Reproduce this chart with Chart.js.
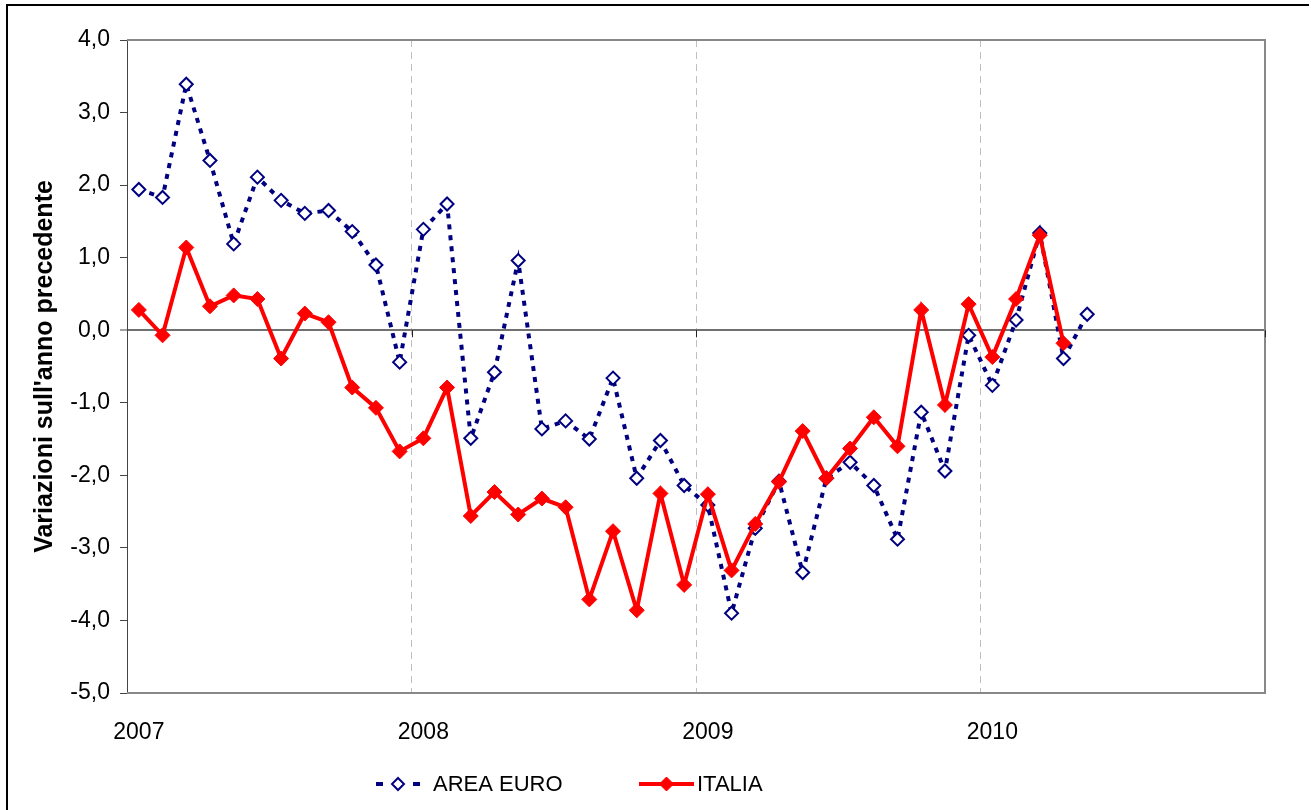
<!DOCTYPE html>
<html>
<head>
<meta charset="utf-8">
<script src="https://cdn.jsdelivr.net/npm/chart.js@4/dist/chart.umd.min.js"></script>
<style>
  html, body { margin: 0; padding: 0; background: #fff; overflow: hidden; }
  #wrap { position: relative; width: 1311px; height: 810px; }
  #frame { position: absolute; left: 6px; top: 4px; width: 1301px; height: 900px;
           border-top: 2px solid #000; border-left: 2px solid #000; pointer-events: none; }
</style>
</head>
<body>
<div id="wrap">
  <canvas id="chart" width="1311" height="810"></canvas>
  <div id="frame"></div>
</div>
<script>
var years = ['2007', '2008', '2009', '2010'];

// one slot per month, Jan 2007 .. Dec 2010
var months = [];
years.forEach(function(y) {
  for (var m = 1; m <= 12; m++) months.push(m + '/' + y);
});

var areaEuro = [1.94, 1.83, 3.39, 2.34, 1.19, 2.11, 1.79, 1.61, 1.65, 1.36, 0.90, -0.44,
                1.39, 1.74, -1.49, -0.58, 0.96, -1.36, -1.25, -1.50, -0.66, -2.04, -1.52, -2.14,
                -2.41, -3.90, -2.73, -2.08, -3.34, -2.04, -1.82, -2.14, -2.88, -1.13, -1.94, -0.07,
                -0.76, 0.14, 1.34, -0.39, 0.22];

var italia = [0.28, -0.07, 1.14, 0.33, 0.48, 0.43, -0.39, 0.23, 0.11, -0.79, -1.07, -1.67,
              -1.49, -0.79, -2.56, -2.23, -2.54, -2.32, -2.44, -3.71, -2.77, -3.86, -2.25, -3.51,
              -2.26, -3.31, -2.67, -2.09, -1.39, -2.04, -1.63, -1.20, -1.60, 0.28, -1.03, 0.36,
              -0.37, 0.43, 1.31, -0.18];

var seriesNames = ['AREA EURO', 'ITALIA'];
var yTicks = [4, 3, 2, 1, 0, -1, -2, -3, -4, -5];

var FONT = "'Liberation Sans', Arial, sans-serif";

// plot frame, year ticks on the zero line
var framePlugin = {
  id: 'frame',
  beforeDatasetsDraw: function(chart) {
    var c = chart.ctx, a = chart.chartArea;
    var xs = chart.scales.x, ys = chart.scales.y;
    c.save();
    c.strokeStyle = '#888';
    c.lineWidth = 2;
    c.beginPath();
    c.moveTo(a.left, a.top);
    c.lineTo(a.right, a.top);
    c.lineTo(a.right, a.bottom);
    c.lineTo(a.left, a.bottom);
    c.stroke();

    var y0 = ys.getPixelForValue(0);
    var step = xs.getPixelForValue(1) - xs.getPixelForValue(0);
    c.strokeStyle = '#222';
    c.lineWidth = 1;
    [12, 24, 36, 48].forEach(function(i) {
      var x = Math.round(xs.getPixelForValue(i) - step / 2) + 0.5;
      c.beginPath();
      c.moveTo(x, y0);
      c.lineTo(x, y0 + 7);
      c.stroke();
    });
    c.restore();
  }
};

// legend with line + marker samples
var legendPlugin = {
  id: 'lineLegend',
  afterDraw: function(chart) {
    var c = chart.ctx;
    var y = 784;
    var items = [
      { ds: chart.data.datasets[0], x0: 376, x1: 420, tx: 433 },
      { ds: chart.data.datasets[1], x0: 639, x1: 694, tx: 697 }
    ];
    c.save();
    items.forEach(function(it) {
      var ds = it.ds;
      c.strokeStyle = ds.borderColor;
      c.lineWidth = ds.borderWidth;
      if (ds.borderDash) {
        c.fillStyle = ds.borderColor;
        c.fillRect(it.x0, y - 2, 7, 4);
        c.fillRect(it.x1 - 7, y - 2, 7, 4);
      } else {
        c.beginPath();
        c.moveTo(it.x0, y);
        c.lineTo(it.x1, y);
        c.stroke();
      }
      var cx = (it.x0 + it.x1) / 2, r = ds.pointRadius - 0.5;
      c.beginPath();
      c.moveTo(cx, y - r);
      c.lineTo(cx + r, y);
      c.lineTo(cx, y + r);
      c.lineTo(cx - r, y);
      c.closePath();
      c.fillStyle = ds.pointBackgroundColor;
      c.fill();
      c.lineWidth = ds.pointBorderWidth;
      c.strokeStyle = ds.pointBorderColor;
      c.stroke();

      c.fillStyle = '#000';
      c.font = '22px ' + FONT;
      c.textBaseline = 'middle';
      c.textAlign = 'left';
      c.fillText(ds.label, it.tx, y + 1);
    });
    c.restore();
  }
};

new Chart(document.getElementById('chart'), {
  type: 'line',
  data: {
    labels: months,
    datasets: [
      {
        label: seriesNames[0],
        data: areaEuro,
        borderColor: '#000080',
        borderWidth: 4,
        borderDash: [5, 6],
        borderCapStyle: 'butt',
        pointStyle: 'rectRot',
        pointRadius: 6.5,
        pointBorderWidth: 2,
        pointBorderColor: '#000080',
        pointBackgroundColor: '#fff',
        tension: 0,
        order: 1
      },
      {
        label: seriesNames[1],
        data: italia,
        borderColor: '#ff0000',
        borderWidth: 4,
        pointStyle: 'rectRot',
        pointRadius: 7.5,
        pointBorderWidth: 1,
        pointBorderColor: '#ff0000',
        pointBackgroundColor: '#ff0000',
        tension: 0,
        order: 0
      }
    ]
  },
  options: {
    responsive: false,
    animation: false,
    events: [],
    layout: { padding: { left: 0, top: 40, right: 46, bottom: 57 } },
    plugins: { legend: { display: false }, tooltip: { enabled: false } },
    scales: {
      x: {
        type: 'category',
        offset: true,
        grid: {
          offset: true,
          drawTicks: false,
          lineWidth: 1,
          color: function(ctx) {
            var i = ctx.index;
            return (i === 12 || i === 24 || i === 36) ? '#c0c0c0' : 'rgba(0,0,0,0)';
          }
        },
        border: { display: false, dash: [7, 5] },
        ticks: {
          autoSkip: false,
          maxRotation: 0,
          padding: 26,
          color: '#000',
          font: { family: FONT, size: 23 },
          callback: function(v, i) { return i % 12 === 0 ? years[i / 12] : ''; }
        },
        afterFit: function(s) { s.height = 60; }
      },
      y: {
        min: yTicks[yTicks.length - 1],
        max: yTicks[0],
        afterBuildTicks: function(s) {
          s.ticks = yTicks.map(function(v) { return { value: v }; });
        },
        grid: {
          drawTicks: true,
          tickLength: 7,
          tickColor: '#444',
          tickWidth: 1,
          color: function(ctx) { return ctx.tick && ctx.tick.value === 0 ? '#707070' : 'rgba(0,0,0,0)'; },
          lineWidth: function(ctx) { return ctx.tick && ctx.tick.value === 0 ? 2 : 1; }
        },
        border: { display: true, color: '#444', width: 1 },
        ticks: {
          padding: 10,
          color: '#000',
          font: { family: FONT, size: 23 },
          callback: function(v) { return v.toFixed(1).replace('.', ','); }
        },
        title: {
          display: true,
          text: "Variazioni sull'anno precedente",
          color: '#000',
          font: { family: FONT, size: 25, weight: 'bold' },
          padding: { top: 30, bottom: 0 }
        },
        afterFit: function(s) { s.width = 127; }
      }
    }
  },
  plugins: [framePlugin, legendPlugin]
});
</script>
</body>
</html>
